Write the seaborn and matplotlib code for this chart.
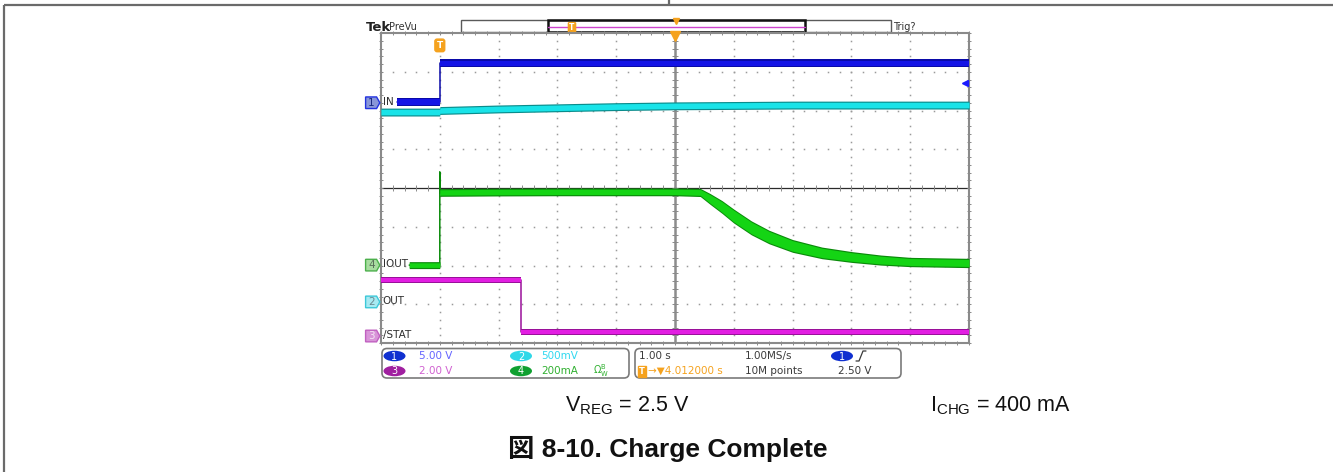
"""
Scope capture, charge complete: IN / OUT / IOUT / /STAT on a Tek-style screen.
Saves the figure as out.png (1333x472).
"""

import matplotlib.pyplot as plt
import numpy as np
import pandas as pd
import seaborn as sns
from matplotlib.patches import Ellipse, FancyBboxPatch, Polygon, Rectangle

W, H = 1333, 472

# ── Data (time in s, 1 s/div, screen starts at 0) ───────
in_t = [0.27, 1.0, 1.0, 10.0]
in_v = [0.1, 0.1, 5.1, 5.1]                      # V

out_t = [0.0, 1.0, 1.0, 2.0, 3.0, 4.0, 5.0, 6.0, 7.0, 8.0, 10.0]
out_v = [2.45, 2.45, 2.47, 2.49, 2.505, 2.52, 2.53, 2.535, 2.54, 2.54, 2.54]

iout_t = [0.48, 1.0, 1.0, 1.0, 2.0, 3.0, 4.0, 5.0, 5.43, 5.6, 5.8, 6.0,
          6.3, 6.6, 7.0, 7.5, 8.0, 8.5, 9.0, 10.0]
iout_ma = [0, 0, 480, 375, 377, 378, 378, 378, 375, 341, 300, 253,
           192, 145, 99, 63, 42, 26, 16, 11]
iout_ripple = [24, 24, 0, 28, 28, 28, 28, 28, 30, 44, 54, 60,
               60, 58, 54, 48, 44, 40, 36, 36]   # mA peak-to-peak

stat_t = [0.0, 2.38, 2.38, 10.0]
stat_v = [2.9, 2.9, 0.2, 0.2]

# channel: label, position (div), scale (unit/div), dark, light
CH = {
    1: ("IN", 6.2, 5.0, "#0a0aa8", "#1414e6"),
    2: ("OUT", 1.06, 0.5, "#0a8c8c", "#19e3e8"),
    3: ("/STAT", 0.18, 2.0, "#9a109a", "#e21ee2"),
    4: ("IOUT", 2.01, 200.0, "#0a8a0a", "#14d414"),
}
TAG = {
    1: ("#8896d8", "#2232e0", "#1a2a80"),
    2: ("#a6eaf2", "#3cc8d8", "#6a8890"),
    3: ("#d894d8", "#c060c0", "#f4e4f4"),
    4: ("#a8dca0", "#4cb04c", "#5a705a"),
}

sns.set_style("white")
plt.rcParams["font.family"] = ["DejaVu Sans"]

fig = plt.figure(figsize=(W / 100, H / 100), dpi=100)

# ── Page overlay in pixel units ──────────────────────────────────────────────
bg = fig.add_axes([0, 0, 1, 1], zorder=0)
bg.set_xlim(0, W)
bg.set_ylim(H, 0)
bg.axis("off")

frame = dict(color="#6a6a6a", lw=1.6, solid_capstyle="butt")
bg.plot([4, W], [5, 5], **frame)
bg.plot([4, 4], [5, H], **frame)
bg.plot([669, 669], [0, 5], **frame)

# ── Scope screen ─────────────────────────────────────────────────────────────
ax = fig.add_axes([381 / W, 1 - 343 / H, 588 / W, 310 / H], zorder=1)
ax.set_xlim(0, 10)
ax.set_ylim(0, 8)
ax.set_xticks([])
ax.set_yticks([])
for s in ax.spines.values():
    s.set_color("#8a8a8a")
    s.set_linewidth(1.5)

xs = np.arange(0, 10.01, 0.2)
ys = np.arange(0, 8.01, 0.2)
dot = dict(ls="none", marker="s", ms=1.1, mew=0, color="#9a9a9a", zorder=1)
for gx in [1, 2, 3, 4, 6, 7, 8, 9]:
    ax.plot(np.full(ys.size, gx), ys, **dot)
for gy in [1, 2, 3, 5, 6, 7]:
    ax.plot(xs, np.full(xs.size, gy), **dot)

ax.axvline(5, color="#8c8c8c", lw=1.8, zorder=1)
ax.axhline(4, color="#2a2a2a", lw=0.9, zorder=1)
tick = dict(ls="none", color="#8a8a8a", mew=0.7, zorder=1, clip_on=False)
ax.plot(np.full(ys.size, 5), ys, marker="_", ms=4, **tick)
ax.plot(xs, np.full(xs.size, 4), marker="|", ms=4, **tick)
ax.plot(xs, np.full(xs.size, 8), marker="|", ms=3, **tick)
ax.plot(xs, np.full(xs.size, 0), marker="|", ms=3, **tick)
ax.plot(np.full(ys.size, 0), ys, marker="_", ms=3, **tick)
ax.plot(np.full(ys.size, 10), ys, marker="_", ms=3, **tick)


def trace(t, v, ch, half):
    """Thin line for the edges, filled band for the noisy flat parts."""
    _, pos, scale, dark, light = CH[ch]
    t = np.asarray(t, float)
    y = pos + np.asarray(v, float) / scale
    hw = np.asarray(half, float) / scale
    sns.lineplot(x=t, y=y, ax=ax, estimator=None, sort=False,
                 color=dark, lw=1.1, zorder=2)
    ax.fill_between(t, y - hw - 0.03, y + hw + 0.03, color=dark, lw=0, zorder=3)
    ax.fill_between(t, y - hw, y + hw, color=light, lw=0, zorder=3)


trace(stat_t, stat_v, 3, 0.11)
trace(out_t, out_v, 2, 0.036)
trace(iout_t, iout_ma, 4, np.asarray(iout_ripple) / 2)
trace(in_t, in_v, 1, 0.34)
ax.set_xlabel("")
ax.set_ylabel("")
ax.set_xlim(0, 10)
ax.set_ylim(0, 8)

# channel ground tags + names
for ch, (name, pos, _, _, _) in CH.items():
    fc, ec, tc = TAG[ch]
    ax.add_patch(Polygon([(-0.262, pos - 0.15), (-0.075, pos - 0.15), (-0.02, pos),
                          (-0.075, pos + 0.15), (-0.262, pos + 0.15)],
                         closed=True, fc=fc, ec=ec, lw=1, clip_on=False, zorder=5))
    ax.text(-0.16, pos, str(ch), color=tc, fontsize=7.5, ha="center", va="center",
            clip_on=False, zorder=6)
    ax.text(0.03, pos + 0.02, name, color="#2e2e2e", fontsize=7.5, ha="left",
            va="center", zorder=6)

# trigger markers
orange = "#f5a21e"
ax.text(1.0, 7.68, "T", color="white", fontsize=6.5, fontweight="bold",
        ha="center", va="center", zorder=6,
        bbox=dict(boxstyle="round,pad=0.2,rounding_size=0.25", fc=orange, ec=orange))
ax.plot([5], [7.93], ls="none", marker="v", ms=7, color=orange, clip_on=False, zorder=6)
ax.plot([9.93], [6.7], ls="none", marker="<", ms=5, color="#1a1aff", zorder=6)
ax.plot([9.93, 10], [6.7, 6.7], color="#1a1aff", lw=1.2, zorder=6)

# ── Header: Tek PreVu + record view bar ──────────────────────────────────────
bg.text(366, 27.5, "Tek", fontsize=9.5, fontweight="bold", color="#222", va="center")
bg.text(389, 27, "PreVu", fontsize=7, color="#333", va="center")
bg.add_patch(Rectangle((461, 20), 430, 12, fc="none", ec="#5a5a5a", lw=1))
bg.add_patch(Rectangle((548, 20), 257, 12, fc="none", ec="#111", lw=1.8))
bg.plot([548, 805], [26.5, 26.5], color="#cc44cc", lw=1)
bg.text(572, 28, "T", color="white", fontsize=5.5, fontweight="bold",
        ha="center", va="center",
        bbox=dict(boxstyle="round,pad=0.12", fc=orange, ec=orange))
bg.plot([676], [21], ls="none", marker="v", ms=5, color=orange)
bg.text(893, 27, "Trig?", fontsize=7, color="#333", va="center")

# ── Readout panel ────────────────────────────────────────────────────────────
for x0, w in [(382, 247), (635, 266)]:
    bg.add_patch(FancyBboxPatch((x0, 348.5), w, 29.5,
                                boxstyle="round,pad=0,rounding_size=5",
                                fc="white", ec="#7a7a7a", lw=1.2))

badges = [(394.5, 356, "1", "#1030d0"), (521, 356, "2", "#30d8e8"),
          (394.5, 371, "3", "#a020a0"), (521, 371, "4", "#10a030"),
          (842, 356, "1", "#1030d0")]
for bx, by, s, c in badges:
    bg.add_patch(Ellipse((bx, by), 22, 10.5, fc=c, ec="none"))
    bg.text(bx, by + 0.5, s, color="white", fontsize=7, ha="center", va="center")

ro = dict(fontsize=7.5, va="center", ha="left")
bg.text(419, 356, "5.00 V", color="#6464ff", **ro)
bg.text(541, 356, "500mV", color="#30d8f0", **ro)
bg.text(419, 371, "2.00 V", color="#d060d0", **ro)
bg.text(541, 371, "200mA", color="#30b030", **ro)
bg.text(593, 371, "Ω$^{\\mathregular{B}}_{\\mathregular{W}}$", color="#30b030",
        fontsize=7, va="center", ha="left")
bg.text(639, 356, "1.00 s", color="#3a3a3a", **ro)
bg.text(745, 356, "1.00MS/s", color="#3a3a3a", **ro)
bg.plot([856, 859, 863, 866], [361, 361, 351, 351], color="#3a3a3a", lw=0.9)
bg.text(642, 371, "T", color="white", fontsize=6, fontweight="bold",
        ha="center", va="center",
        bbox=dict(boxstyle="square,pad=0.12", fc=orange, ec=orange))
bg.text(648, 371, "→▼4.012000 s", color=orange, **ro)
bg.text(745, 371, "10M points", color="#3a3a3a", **ro)
bg.text(838, 371, "2.50 V", color="#3a3a3a", **ro)

# ── Conditions + figure caption ─────────────────────────────────────────────
cap = dict(fontsize=15.5, family="Liberation Sans", color="#111", va="baseline")
bg.text(565, 411, "V$_\\mathregular{REG}$ = 2.5 V", ha="left", **cap)
bg.text(930, 411, "I$_\\mathregular{CHG}$ = 400 mA", ha="left", **cap)
bg.text(668, 457, "図 8-10. Charge Complete", fontsize=19, fontweight="bold",
        family=["Liberation Sans", "Noto Sans CJK JP"], color="#111",
        ha="center", va="baseline")

fig.savefig("out.png", dpi=100)
print("Saved → out.png")
